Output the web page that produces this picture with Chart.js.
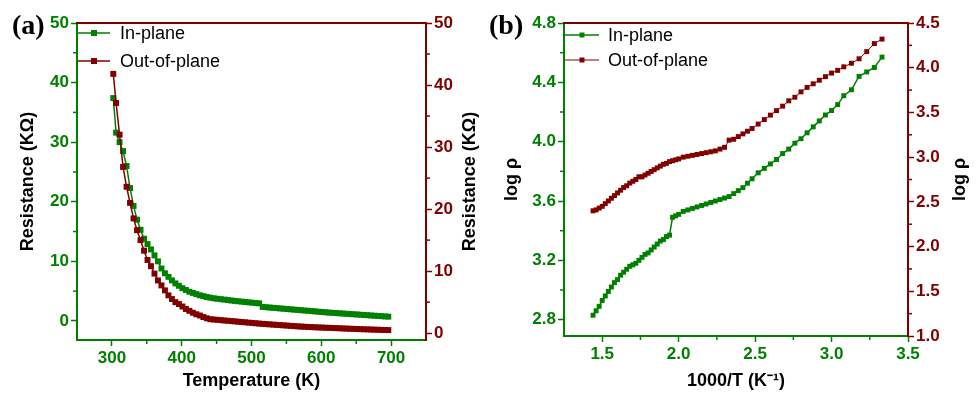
<!DOCTYPE html>
<html lang="en">
<head>
<meta charset="UTF-8">
<title>Resistance vs temperature</title>
<script src="https://cdn.jsdelivr.net/npm/chart.js"></script>
<style>
  body { margin: 0; background: #fff; }
  #wrap { position: relative; width: 977px; height: 393px; overflow: hidden; }
  #wrap canvas { position: absolute; top: 0; }
  .tag { position: absolute; font: bold 28px "Liberation Serif", "Times New Roman", serif; line-height: 28px; color: #000; }
</style>
</head>
<body>
<div id="wrap">
  <canvas id="chartA" width="488" height="393" style="left:0"></canvas>
  <canvas id="chartB" width="489" height="393" style="left:488px"></canvas>
  <div class="tag" style="left:12px;top:11px">(a)</div>
  <div class="tag" style="left:489px;top:11px">(b)</div>
</div>
<script>
// ---- panel (a): resistance vs temperature ----
const tempK = [
  302, 306, 311, 316, 321, 326, 331, 336, 341, 346, 351, 356, 361, 366, 371, 376,
  381, 386, 391, 396, 401, 406, 411, 416, 421, 426, 431, 436, 441, 446, 451, 456,
  461, 466, 471, 476, 481, 486, 491, 496, 501, 506, 511, 516, 521, 526, 531, 536,
  541, 546, 551, 556, 561, 566, 571, 576, 581, 586, 591, 596, 601, 606, 611, 616,
  621, 626, 631, 636, 641, 646, 651, 656, 661, 666, 671, 676, 681, 686, 691, 696
];
const resInPlane = [
  37.4, 31.6, 30.0, 28.5, 26.0, 22.3, 19.3, 17.0, 15.3, 13.8, 12.9, 12.0, 11.0, 10.0, 8.8, 8.0,
  7.4, 6.8, 6.3, 5.9, 5.5, 5.2, 4.9, 4.7, 4.5, 4.3, 4.15, 4.0, 3.9, 3.8, 3.72, 3.65,
  3.58, 3.5, 3.43, 3.36, 3.3, 3.24, 3.18, 3.12, 3.06, 3.0, 2.95, 2.35, 2.3, 2.25, 2.2, 2.15,
  2.1, 2.05, 2.0, 1.95, 1.9, 1.85, 1.8, 1.75, 1.7, 1.65, 1.6, 1.55, 1.5, 1.45, 1.4, 1.36,
  1.32, 1.28, 1.24, 1.2, 1.16, 1.12, 1.08, 1.04, 1.0, 0.96, 0.92, 0.88, 0.84, 0.8, 0.76, 0.72
];
const resOutPlane = [
  41.8, 37.1, 32.0, 26.8, 23.6, 21.0, 18.5, 16.6, 15.0, 13.3, 11.8, 10.8, 9.6, 8.5, 7.7, 6.9,
  6.1, 5.5, 5.0, 4.7, 4.3, 3.9, 3.6, 3.3, 3.05, 2.85, 2.6, 2.4, 2.25, 2.2, 2.15, 2.1,
  2.05, 2.0, 1.95, 1.9, 1.85, 1.8, 1.75, 1.7, 1.65, 1.6, 1.55, 1.5, 1.46, 1.42, 1.38, 1.34,
  1.3, 1.26, 1.22, 1.18, 1.14, 1.1, 1.06, 1.04, 1.0, 0.98, 0.95, 0.93, 0.9, 0.88, 0.86, 0.84,
  0.81, 0.79, 0.76, 0.74, 0.72, 0.7, 0.67, 0.65, 0.63, 0.61, 0.59, 0.57, 0.55, 0.53, 0.51, 0.5
];
const aTicksX = [300, 400, 500, 600, 700];
const aMinorX = [350, 450, 550, 650];
const aTicksY = [0, 10, 20, 30, 40, 50];
const aMinorY = [5, 15, 25, 35, 45];

// ---- panel (b): log rho vs 1000/T ----
const invT = [
  1.44, 1.46, 1.48, 1.50, 1.52, 1.54, 1.56, 1.58, 1.60, 1.62, 1.64, 1.66, 1.68, 1.70, 1.72,
  1.74, 1.76, 1.78, 1.80, 1.82, 1.84, 1.86, 1.88, 1.90, 1.92, 1.94, 1.96, 1.98, 2.00,
  2.03, 2.06, 2.09, 2.12, 2.15, 2.18, 2.21, 2.24, 2.27, 2.30, 2.33, 2.36, 2.39, 2.42, 2.45, 2.48,
  2.52, 2.56, 2.60, 2.64, 2.68, 2.72, 2.76, 2.80, 2.84, 2.88, 2.92, 2.96, 3.00, 3.04, 3.08,
  3.13, 3.18, 3.23, 3.28, 3.33
];
const logRhoIn = [
  2.83, 2.86, 2.89, 2.93, 2.96, 2.99, 3.02, 3.05, 3.07, 3.10, 3.12, 3.14, 3.16, 3.17, 3.18,
  3.20, 3.22, 3.24, 3.25, 3.27, 3.29, 3.31, 3.33, 3.34, 3.36, 3.37, 3.49, 3.50, 3.51,
  3.53, 3.54, 3.55, 3.56, 3.57, 3.58, 3.59, 3.60, 3.61, 3.62, 3.63, 3.65, 3.67, 3.69, 3.72, 3.75,
  3.79, 3.82, 3.85, 3.88, 3.92, 3.95, 3.99, 4.02, 4.06, 4.10, 4.14, 4.18, 4.21, 4.25, 4.31,
  4.35, 4.44, 4.47, 4.50, 4.57
];
const logRhoOut = [
  2.40, 2.41, 2.43, 2.45, 2.48, 2.51, 2.54, 2.57, 2.60, 2.63, 2.66, 2.68, 2.71, 2.73, 2.75,
  2.78, 2.78, 2.80, 2.82, 2.84, 2.86, 2.88, 2.90, 2.92, 2.93, 2.95, 2.96, 2.97, 2.98,
  3.00, 3.01, 3.02, 3.03, 3.04, 3.05, 3.06, 3.07, 3.09, 3.11, 3.19, 3.20, 3.23, 3.26, 3.29, 3.32,
  3.37, 3.42, 3.47, 3.52, 3.57, 3.63, 3.67, 3.73, 3.78, 3.82, 3.86, 3.90, 3.94, 3.97, 4.01,
  4.05, 4.10, 4.18, 4.27, 4.32
];
const bTicksX = [1.5, 2.0, 2.5, 3.0, 3.5];
const bMinorX = [1.75, 2.25, 2.75, 3.25];
const bTicksY = [2.8, 3.2, 3.6, 4.0, 4.4, 4.8];
const bMinorY = [3.0, 3.4, 3.8, 4.2, 4.6];
const bTicksY1 = [1.0, 1.5, 2.0, 2.5, 3.0, 3.5, 4.0, 4.5];
const bMinorY1 = [1.25, 1.75, 2.25, 2.75, 3.25, 3.75, 4.25];

const seriesNames = ['In-plane', 'Out-of-plane'];

const GREEN = '#008000';
const RED = '#800000';
const SANS = 'Arial, "Liberation Sans", sans-serif';
const tickFont = { family: SANS, size: 17, weight: 'bold' };
const titleFont = { family: SANS, size: 18, weight: 'bold' };

Chart.defaults.font.family = SANS;

function makeAxis(o) {
  return {
    type: 'linear',
    position: o.position,
    min: o.min,
    max: o.max,
    afterBuildTicks: s => { s.ticks = o.ticks.map(v => ({ value: v })); },
    afterFit: s => { if (s.isHorizontal()) s.height = o.size; else s.width = o.size; },
    border: { color: o.color, width: 2 },
    grid: { drawOnChartArea: false, drawTicks: true, tickLength: 6, tickColor: o.color, tickWidth: 1.5 },
    ticks: { color: o.color, font: tickFont, padding: 2, autoSkip: false, maxRotation: 0, callback: o.fmt },
    // right-hand titles read bottom-to-top like the left one, so they are drawn by the plugin
    title: { display: !!o.title, text: o.title, color: '#000', font: titleFont, padding: o.titlePad }
  };
}

function series(label, xs, ys, color, axis, radius, width, order) {
  return {
    label: label,
    data: xs.map((x, i) => ({ x: x, y: ys[i] })),
    yAxisID: axis,
    borderColor: color,
    backgroundColor: color,
    borderWidth: width,
    pointStyle: 'rect',
    pointRadius: radius,
    pointBorderWidth: 0,
    tension: 0,
    order: order
  };
}

// top frame line, minor ticks, right axis title and the in-plot legend
function makeExtras(minor, leg, rightTitle) {
  return {
    id: 'extras',
    afterDraw(chart) {
      const ctx = chart.ctx, a = chart.chartArea;
      ctx.save();
      ctx.strokeStyle = RED;
      ctx.lineWidth = 2;
      ctx.beginPath();
      ctx.moveTo(a.left - 1, a.top);
      ctx.lineTo(a.right + 1, a.top);
      ctx.stroke();

      Object.keys(minor).forEach(id => {
        const s = chart.scales[id];
        ctx.strokeStyle = s.options.border.color;
        ctx.lineWidth = 1.5;
        minor[id].forEach(v => {
          const p = s.getPixelForValue(v);
          ctx.beginPath();
          if (s.position === 'bottom') { ctx.moveTo(p, a.bottom); ctx.lineTo(p, a.bottom + 4); }
          else if (s.position === 'left') { ctx.moveTo(a.left, p); ctx.lineTo(a.left - 4, p); }
          else { ctx.moveTo(a.right, p); ctx.lineTo(a.right + 4, p); }
          ctx.stroke();
        });
      });

      ctx.save();
      ctx.translate(rightTitle.x, (a.top + a.bottom) / 2);
      ctx.rotate(-Math.PI / 2);
      ctx.fillStyle = '#000';
      ctx.font = 'bold 18px ' + SANS;
      ctx.textAlign = 'center';
      ctx.textBaseline = 'middle';
      ctx.fillText(rightTitle.text, 0, 0);
      ctx.restore();

      chart.data.datasets.forEach((ds, i) => {
        const y = a.top + leg.y[i];
        const x0 = a.left + 1;
        ctx.strokeStyle = ds.borderColor;
        ctx.lineWidth = ds.borderWidth;
        ctx.beginPath();
        ctx.moveTo(x0, y);
        ctx.lineTo(x0 + leg.len, y);
        ctx.stroke();
        ctx.fillStyle = ds.borderColor;
        ctx.fillRect(x0 + leg.len / 2 - leg.mark / 2, y - leg.mark / 2, leg.mark, leg.mark);
        ctx.fillStyle = '#000';
        ctx.font = '18px ' + SANS;
        ctx.textAlign = 'left';
        ctx.textBaseline = 'middle';
        ctx.fillText(ds.label, x0 + leg.len + leg.gap, y + 1);
      });
      ctx.restore();
    }
  };
}

new Chart(document.getElementById('chartA'), {
  type: 'line',
  data: {
    datasets: [
      series(seriesNames[0], tempK, resInPlane, GREEN, 'y', 4.2, 1.5, 1),
      series(seriesNames[1], tempK, resOutPlane, RED, 'y1', 4.2, 1.5, 0)
    ]
  },
  options: {
    responsive: false,
    animation: false,
    devicePixelRatio: 1,
    layout: { padding: { top: 23, left: 0, right: 0, bottom: 0 } },
    plugins: { legend: { display: false }, tooltip: { enabled: false } },
    scales: {
      x: makeAxis({ position: 'bottom', min: 250, max: 750, ticks: aTicksX, size: 53, color: GREEN,
        title: 'Temperature (K)', titlePad: { bottom: 1 }, fmt: v => String(v) }),
      y: makeAxis({ position: 'left', min: -3.2, max: 50, ticks: aTicksY, size: 77, color: GREEN,
        title: 'Resistance (KΩ)', titlePad: { top: 17 }, fmt: v => String(v) }),
      y1: makeAxis({ position: 'right', min: -1.1, max: 50, ticks: aTicksY, size: 62, color: RED,
        title: '', fmt: v => String(v) })
    }
  },
  plugins: [makeExtras({ x: aMinorX, y: aMinorY, y1: aMinorY }, { y: [10, 38], len: 32, mark: 6, gap: 10 },
    { text: 'Resistance (KΩ)', x: 470 })]
});

new Chart(document.getElementById('chartB'), {
  type: 'line',
  data: {
    datasets: [
      series(seriesNames[0], invT, logRhoIn, GREEN, 'y', 3.5, 1.5, 1),
      series(seriesNames[1], invT, logRhoOut, RED, 'y1', 3.5, 1, 0)
    ]
  },
  options: {
    responsive: false,
    animation: false,
    devicePixelRatio: 1,
    layout: { padding: { top: 23, left: 0, right: 0, bottom: 0 } },
    plugins: { legend: { display: false }, tooltip: { enabled: false } },
    scales: {
      x: makeAxis({ position: 'bottom', min: 1.25, max: 3.5, ticks: bTicksX, size: 57, color: GREEN,
        title: '1000/T (K⁻¹)', titlePad: { bottom: 1 }, fmt: v => v.toFixed(1) }),
      y: makeAxis({ position: 'left', min: 2.69, max: 4.8, ticks: bTicksY, size: 76, color: GREEN,
        title: 'log ρ', titlePad: { top: 13 }, fmt: v => v.toFixed(1) }),
      y1: makeAxis({ position: 'right', min: 1.0, max: 4.5, ticks: bTicksY1, size: 69, color: RED,
        title: '', fmt: v => v.toFixed(1) })
    }
  },
  plugins: [makeExtras({ x: bMinorX, y: bMinorY, y1: bMinorY1 }, { y: [12, 37], len: 34, mark: 5, gap: 9 },
    { text: 'log ρ', x: 472 })]
});
</script>
</body>
</html>
